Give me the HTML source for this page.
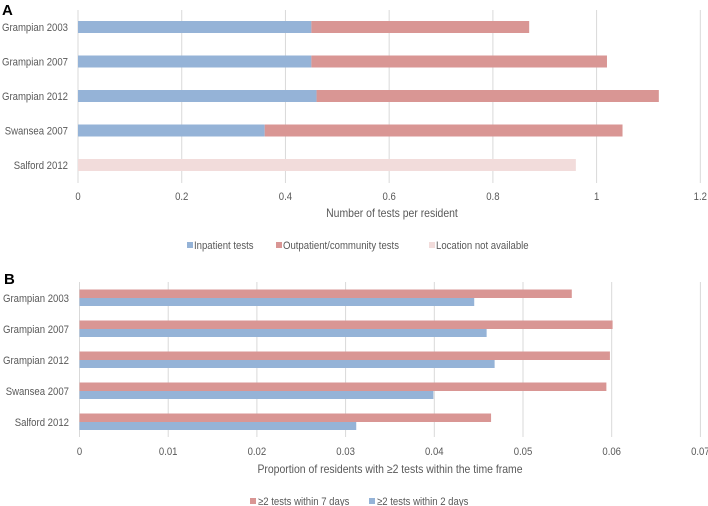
<!DOCTYPE html>
<html><head><meta charset="utf-8"><style>
body{margin:0;background:#fff}
svg{display:block;font-family:"Liberation Sans",sans-serif}
</style></head><body>
<svg id="c" width="708" height="506">
<text x="2" y="15" font-size="15" font-weight="bold" fill="#000">A</text>
<text x="4" y="284" font-size="15" font-weight="bold" fill="#000">B</text>
</svg>
<script>
const cats=["Grampian 2003","Grampian 2007","Grampian 2012","Swansea 2007","Salford 2012"];
const inpatient=[0.45,0.45,0.46,0.36,0];
const totalTests=[0.87,1.02,1.12,1.05,0];
const notAvail=[0,0,0,0,0.96];
const ticksA=[0,0.2,0.4,0.6,0.8,1,1.2];
const tickLabelsA=["0","0.2","0.4","0.6","0.8","1","1.2"];
const days7=[0.0555,0.0601,0.0598,0.0594,0.0464];
const days2=[0.0445,0.0459,0.0468,0.0399,0.0312];
const ticksB=[0,0.01,0.02,0.03,0.04,0.05,0.06,0.07];
const tickLabelsB=["0","0.01","0.02","0.03","0.04","0.05","0.06","0.07"];

const svg=document.getElementById('c');
const NS="http://www.w3.org/2000/svg";
function mk(tag,a,p){const e=document.createElementNS(NS,tag);for(const k in a)e.setAttribute(k,a[k]);(p||svg).appendChild(e);return e;}
function narrow(e){const w=e.getComputedTextLength();e.setAttribute('textLength',(w*0.87).toFixed(1));e.setAttribute('lengthAdjust','spacingAndGlyphs');}
const BLUE="#95b3d7",RED="#d99694",PINK="#f2dcdb",GRID="#d9d9d9",TXT="#595959";

// Panel A
const xA=v=>78+v*518.6;
const yA=i=>27+i*34.5;
ticksA.forEach((t,i)=>{
  const l=mk('line',{x1:xA(t),x2:xA(t),y1:10,y2:183,stroke:GRID,'stroke-width':1});
  
  
  const tx=mk('text',{x:xA(t),y:200,'font-size':11,fill:TXT,'text-anchor':'middle'});
  tx.textContent=tickLabelsA[i];
  
  
  narrow(tx);
});
cats.forEach((c,i)=>{
  const y=yA(i);
  const lb=mk('text',{x:68,y:y+4,'font-size':11,fill:TXT,'text-anchor':'end'});
  lb.textContent=c;
  
  
  narrow(lb);
  if(inpatient[i]>0){
    const b=mk('rect',{x:xA(0),y:y-6,width:xA(inpatient[i])-xA(0),height:12,fill:BLUE});
    
    
  }
  if(totalTests[i]>0){
    const b=mk('rect',{x:xA(inpatient[i]),y:y-6,width:xA(totalTests[i])-xA(inpatient[i]),height:12,fill:RED});
    
    
  }
  if(notAvail[i]>0){
    const b=mk('rect',{x:xA(0),y:y-6,width:xA(notAvail[i])-xA(0),height:12,fill:PINK});
    
    
  }
});
let t=mk('text',{x:392,y:217,'font-size':12,fill:TXT,'text-anchor':'middle'});
t.textContent="Number of tests per resident";


narrow(t);
[[187,BLUE,"Inpatient tests"],[276,RED,"Outpatient/community tests"],[429,PINK,"Location not available"]].forEach(([x,col,s])=>{
  const r=mk('rect',{x:x,y:242,width:6,height:6,fill:col});
  
  
  const tx=mk('text',{x:x+7,y:249,'font-size':11,fill:TXT});
  tx.textContent=s;
  
  
  narrow(tx);
});

// Panel B
const xB=v=>79.5+v*8870;
const yB=i=>298+i*31;
ticksB.forEach((tk,i)=>{
  const l=mk('line',{x1:xB(tk),x2:xB(tk),y1:282,y2:437,stroke:GRID,'stroke-width':1});
  
  
  const tx=mk('text',{x:xB(tk),y:455,'font-size':11,fill:TXT,'text-anchor':'middle'});
  tx.textContent=tickLabelsB[i];
  
  
  narrow(tx);
});
cats.forEach((c,i)=>{
  const y=yB(i);
  const lb=mk('text',{x:69,y:y+4,'font-size':11,fill:TXT,'text-anchor':'end'});
  lb.textContent=c;
  
  
  narrow(lb);
  const r=mk('rect',{x:xB(0),y:y-8.5,width:xB(days7[i])-xB(0),height:8.5,fill:RED});
  
  
  const b=mk('rect',{x:xB(0),y:y,width:xB(days2[i])-xB(0),height:8,fill:BLUE});
  
  
});
t=mk('text',{x:390,y:473,'font-size':12,fill:TXT,'text-anchor':'middle'});
t.textContent="Proportion of residents with ≥2 tests within the time frame";


narrow(t);
[[250,RED,"≥2 tests within 7 days"],[369,BLUE,"≥2 tests within 2 days"]].forEach(([x,col,s])=>{
  const r=mk('rect',{x:x,y:498,width:6,height:6,fill:col});
  
  
  const tx=mk('text',{x:x+8,y:505,'font-size':11,fill:TXT});
  tx.textContent=s;
  
  
  narrow(tx);
});
</script>
</body></html>
